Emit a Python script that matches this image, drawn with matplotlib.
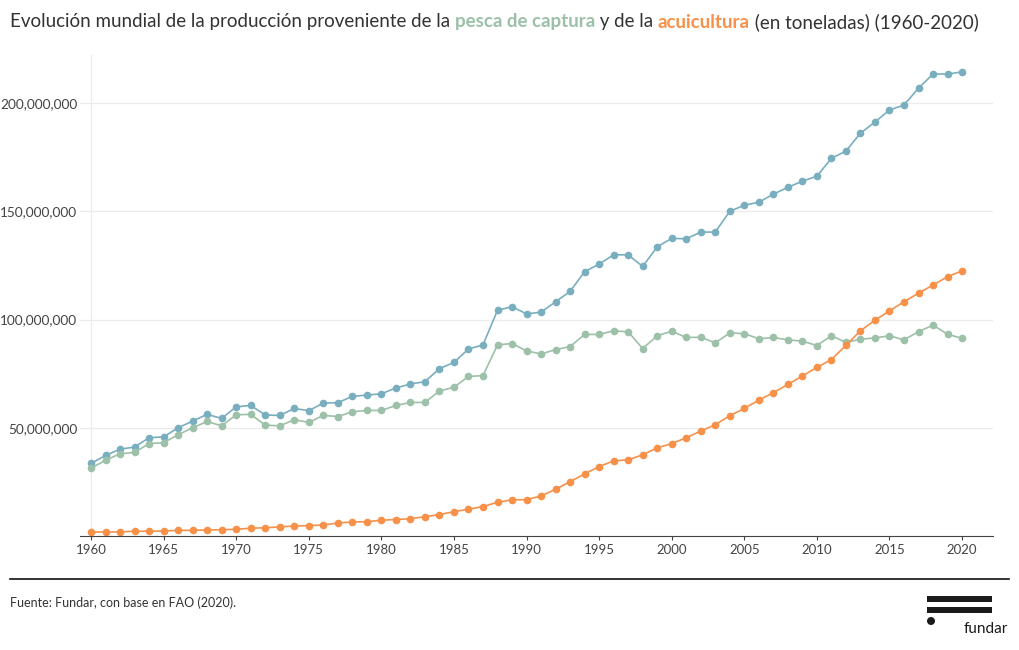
import matplotlib.pyplot as plt
from matplotlib.patches import Rectangle, Ellipse
from matplotlib.ticker import FuncFormatter

plt.rcParams['font.family'] = ['Lato', 'DejaVu Sans']

years = list(range(1960, 2021))

total = [33.5, 37.2, 40.1, 41.1, 45.4, 45.8, 50.0, 53.1, 56.2, 54.3,
         59.7, 60.3, 55.9, 55.7, 58.9, 57.9, 61.4, 61.6, 64.5, 65.1,
         65.7, 68.4, 70.2, 71.3, 77.3, 80.2, 86.4, 88.3, 104.3, 105.9,
         102.6, 103.4, 108.2, 113.0, 122.1, 125.6, 129.9, 129.9, 124.5, 133.6,
         137.5, 137.3, 140.4, 140.4, 150.0, 152.8, 154.2, 157.9, 161.1, 163.9,
         166.2, 174.5, 177.8, 186.1, 191.2, 196.8, 199.1, 206.9, 213.4, 213.4,
         214.4]

captura = [31.3, 35.0, 38.0, 38.6, 42.7, 43.1, 46.8, 50.0, 52.9, 50.9,
           56.0, 56.2, 51.2, 50.9, 53.7, 52.5, 55.7, 55.2, 57.4, 58.0,
           58.0, 60.3, 61.7, 61.7, 67.0, 68.7, 73.7, 74.1, 88.3, 88.9,
           85.5, 84.1, 86.1, 87.5, 93.1, 93.1, 94.8, 94.3, 86.6, 92.5,
           94.6, 91.7, 91.8, 89.2, 93.8, 93.5, 91.1, 91.7, 90.6, 90.0,
           88.0, 92.5, 89.4, 90.9, 91.5, 92.5, 90.6, 94.4, 97.4, 93.2,
           91.3]

acuicultura = [1.85, 1.85, 1.9, 2.2, 2.2, 2.3, 2.6, 2.6, 2.8, 2.9,
               3.1, 3.6, 3.8, 4.2, 4.6, 4.8, 5.1, 6.0, 6.5, 6.6,
               7.3, 7.6, 8.0, 8.9, 9.9, 11.2, 12.4, 13.6, 15.6, 16.7,
               16.8, 18.5, 21.6, 25.1, 28.7, 32.1, 34.7, 35.2, 37.5, 40.7,
               42.7, 45.4, 48.5, 51.4, 55.6, 58.9, 62.8, 66.2, 70.0, 73.9,
               77.9, 81.5, 88.1, 94.8, 99.7, 104.0, 108.2, 112.2, 115.9, 119.8,
               122.5]

color_total = '#79aebf'
color_captura = '#9cc0a8'
color_acui = '#f79149'

W, H = 1020, 650
fig = plt.figure(figsize=(W / 100, H / 100), dpi=100)
ax = fig.add_axes([80 / W, 1 - 536 / H, (993 - 80) / W, (536 - 55) / H])

for vals, col in [(total, color_total), (captura, color_captura), (acuicultura, color_acui)]:
    ax.plot(years, [v * 1e6 for v in vals], color=col, lw=1.2, marker='o',
            markersize=5.5, markeredgewidth=0, clip_on=False)

ax.set_xlim(1959.24, 2022.13)
ax.set_ylim(0, 222.2e6)
ax.set_xticks(range(1960, 2021, 5))
ax.set_yticks([50e6, 100e6, 150e6, 200e6])
ax.yaxis.set_major_formatter(FuncFormatter(lambda v, p: f'{int(v):,}'))
ax.grid(axis='y', color='#ebebeb', lw=0.9)
ax.axvline(1960, color='#ebebeb', lw=0.9, zorder=0)
ax.set_axisbelow(True)
for s in ['top', 'right', 'left']:
    ax.spines[s].set_visible(False)
ax.spines['bottom'].set_color('#444444')
ax.spines['bottom'].set_linewidth(0.8)
ax.tick_params(axis='y', length=0, pad=2, labelsize=9.8, labelcolor='#444444')
ax.tick_params(axis='x', length=3, width=0.8, color='#444444', pad=3,
               labelsize=9.5, labelcolor='#444444')

# title with coloured words
parts = [("Evolución mundial de la producción proveniente de la ", '#333333', 'normal'),
         ("pesca de captura", color_captura, 'bold'),
         (" y de la ", '#333333', 'normal'),
         ("acuicultura", color_acui, 'bold'),
         (" (en toneladas) (1960-2020)", '#333333', 'normal')]
renderer = fig.canvas.get_renderer()
x = 10
for txt, col, wt in parts:
    t = fig.text(x / W, 1 - 22 / H, txt, color=col, fontsize=13.5, fontweight=wt,
                 va='center', ha='left')
    bb = t.get_window_extent(renderer=renderer)
    x += bb.width

# footer
fig.add_artist(plt.Line2D([10 / W, 1009 / W], [1 - 579 / H, 1 - 579 / H],
                          color='#111111', lw=1.2))
fig.text(10 / W, 1 - 603 / H, "Fuente: Fundar, con base en FAO (2020).",
         fontsize=9, color='#333333', va='center')

# logo
for y0 in [596, 607]:
    fig.add_artist(Rectangle((927 / W, 1 - (y0 + 6) / H), 65 / W, 6 / H,
                             transform=fig.transFigure, color='#1a1a1a', lw=0))
fig.add_artist(Ellipse((931 / W, 1 - 621 / H), 8 / W, 8 / H,
                       transform=fig.transFigure, color='#1a1a1a', lw=0))
fig.text(1008 / W, 1 - 629 / H, "fundar", fontsize=11, color='#1a1a1a',
         ha='right', va='center')

fig.savefig('out.png', dpi=100)
